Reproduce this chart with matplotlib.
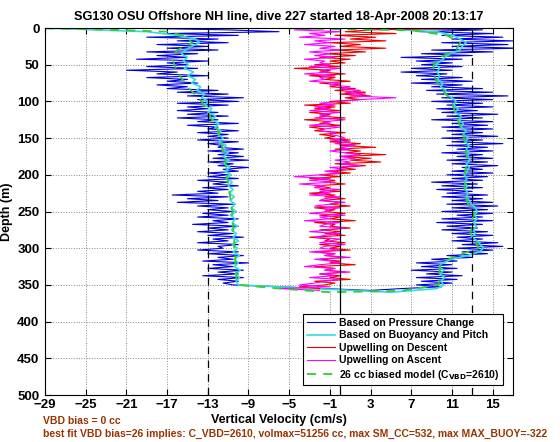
import numpy as np
import matplotlib
matplotlib.use("Agg")
import matplotlib.pyplot as plt

plt.rcParams['font.family'] = ['Liberation Sans', 'DejaVu Sans']
plt.rcParams['font.weight'] = 'bold'

# ---- data (depth in m, velocity in cm/s) ----
title = 'SG130 OSU Offshore NH line, dive 227 started 18-Apr-2008 20:13:17'

# pressure based vertical velocity, descent (depth 0..350 every 2.5 m)
blue_desc = [
    -21, -11, -6, -17, -10, -19, -12, -16, -11, -18,
    -13, -17, -12, -19, -14, -18, -15, -20, -13, -17,
    -15, -19, -14, -21, -16, -18, -13, -19, -15, -17,
    -14, -18, -15, -17, -12, -16, -11, -15, -9.5, -14,
    -10, -16, -11, -15, -13, -16, -12, -15, -11, -16,
    -12, -14, -10, -15, -12, -13, -10, -14, -11, -13,
    -11, -14, -10, -13, -11.5, -12, -9.5, -13, -10, -12,
    -9.5, -12.5, -9, -13, -10.5, -12, -9, -11.5, -10, -13,
    -11, -13, -10, -14, -11, -12.5, -10, -13.5, -11, -14,
    -12, -16.5, -11, -15, -12, -16, -10.5, -14, -11, -13,
    -10.5, -13.5, -11, -14, -10, -12.5, -11, -14.5, -10, -13,
    -11, -14, -10.5, -13, -9.5, -12.5, -11, -14, -10, -12,
    -11.5, -14, -10, -13, -9.5, -12, -10.5, -13.5, -9, -12.5,
    -10.5, -13, -9.5, -12, -10, -13.5, -9.5, -12, -10, -11.5, -10.5,
]
# pressure based, ascent (depth 0..357.5 every 2.5 m)
blue_asc = [
    5, 14, 8, 15, 10, 16, 11, 17, 10, 16.5, 11, 17.5, 9, 15, 8, 13, 6, 12, 7.5, 11,
    8, 12, 7, 11, 6, 10.5, 7.5, 12, 8, 13, 7, 12, 9, 14, 8.5, 15, 9.5, 16.5, 10, 15,
    9, 14, 10.5, 15, 9.5, 13.5, 10, 15.5, 10.5, 14, 9, 15, 11, 14.5, 10, 15, 10.5, 14, 11, 15.5,
    10, 14, 11, 16, 10.5, 14.5, 11.5, 15, 10, 14, 11.5, 15, 10.5, 14.5, 11, 15.5, 12, 14, 11, 15,
    10.5, 14.5, 11, 14, 9, 13.5, 10, 14, 9.5, 13, 10.5, 14.5, 10, 14, 11, 15, 10.5, 15.5, 11, 14.5,
    10, 15, 11.5, 14, 10, 15, 9.5, 14, 10.5, 13.5, 10, 14.5, 11, 15, 11.5, 14, 11, 15.5, 12, 16,
    11.5, 15, 12, 14.5, 10.5, 13, 9, 11.5, 7.5, 11, 8, 11.5, 7, 11, 8.5, 12, 7.5, 11.5, 8, 11,
    7.5, 10, 6, 3,
]

# buoyancy and pitch model, descent (depth 0..350 every 5 m)
cyan_desc = [
    -29, -19, -16, -14.2, -13.8, -14.6, -15.2, -15.6, -15, -15.4,
    -14.9, -15.3, -14.4, -15, -14.2, -14.6, -13.7, -14.1, -13.3, -13.6,
    -12.9, -13.3, -12.6, -13, -12.2, -12.6, -11.9, -12.3, -11.7, -12,
    -11.5, -11.9, -11.2, -11.6, -11, -11.5, -10.9, -11.4, -10.8, -11.3,
    -10.7, -11.2, -10.6, -11, -10.5, -10.9, -10.4, -10.8, -10.3, -10.7,
    -10.2, -10.8, -10.3, -10.6, -10.1, -10.7, -10.2, -10.5, -10, -10.6,
    -10.1, -10.5, -9.9, -10.4, -10, -10.4, -9.8, -10.3, -9.9, -10.2, -10,
]
# buoyancy and pitch model, ascent (depth 0..360 every 5 m)
cyan_asc = [
    3, 9.5, 11.1, 11.8, 12.4, 12, 11.8, 10.8, 10.3, 9.9,
    9.4, 9.8, 9.5, 9.8, 9.6, 10.1, 9.9, 10.4, 10.3, 11,
    11.4, 11.2, 11.6, 11.3, 11.9, 11.7, 12.1, 11.9, 12.4, 12.1,
    12.6, 12.3, 12.7, 12.4, 12.7, 12.5, 12.8, 12.4, 12.7, 12.5,
    12.2, 12.5, 12.2, 12.5, 12.3, 12.6, 12.4, 12.7, 12.9, 13.3,
    13.5, 13.2, 13.5, 13.1, 13.4, 13.1, 13.3, 12.9, 13.5, 13.8,
    14.1, 13.7, 12.5, 11, 10.1, 9.7, 10.2, 9.8, 10.3, 9.9,
    10.2, 9.5, 5,
]

# 26 cc biased model
green_desc_depth = [0.5, 2, 5, 10, 20, 30, 40, 50, 60, 70, 80, 90, 100, 110, 120, 130, 140,
                    150, 160, 170, 180, 190, 200, 210, 220, 230, 240, 250, 260, 270, 280,
                    290, 300, 310, 320, 330, 340, 350, 356]
green_desc = [-29, -23, -17, -15.5, -14.5, -16, -16.5, -16.3, -16, -15.5, -15, -14.3, -13.6,
              -13.2, -12.8, -12.4, -12, -11.8, -11.6, -11.5, -11.3, -11.2, -11.2, -11, -10.9,
              -10.8, -10.7, -10.6, -10.6, -10.5, -10.5, -10.4, -10.4, -10.3, -10.3, -10.2,
              -10.2, -10.1, -5]
green_asc_depth = [360, 358, 350, 340, 330, 320, 310, 300, 290, 280, 270, 260, 250, 240, 230,
                   220, 210, 200, 190, 180, 170, 160, 150, 140, 130, 120, 110, 100, 90, 80,
                   70, 60, 50, 40, 30, 20, 10, 3, 0.5]
green_asc = [-1, 6, 9.7, 9.7, 9.8, 9.9, 11.5, 13.6, 13.3, 12.8, 13, 13, 13.2, 12.6, 12.3,
             12.2, 12.3, 12.2, 12.4, 12.5, 12.4, 12.3, 12.2, 12, 11.7, 11.4, 11.2, 11, 10.4,
             9.8, 9.4, 9.2, 9.2, 9.8, 11.4, 11.8, 10.5, 7, -5]

# upwelling on descent (depth 0..355 every 2.5 m)
red_up = [
    15, 3, 0.5, 5.5, -0.5, 3.5, 1, 4.5, -1, 2, 0, 4.5, -0.5, 2.5, -1.5, 1.5, -2, 1, -1, 0.5,
    -2.5, 0, -4.5, -1, -2, 0.5, -3, -0.5, -1.5, 1, -2, 0, -1, 1.5, -0.5, 2.5, 0, 3, 0.5, 2,
    -1, 1, -3.5, -0.5, -2.5, 0, -3, -1, -2, 0.5, -3.5, -1, -2, 0, -3, -1.5, -2.5, 0.5, -2, -0.5,
    -1.5, 1, -1, 2, 0, 3.5, -0.5, 2, 0.5, 4.5, 0, 3, 1, 4, -0.5, 2.5, 0, 1.5, -1, 1,
    -2, 0, -3, -0.5, -1.5, 0.5, -2.5, -1, -2, 0, -3, -0.5, -1.5, 0.5, -2, 0, -1, 1, -2.5, -0.5,
    -1.5, 0.5, -2, 0, -1, 1.5, -2.5, -0.5, -1, 1, -2, 0, -1.5, 0.5, -3, -1, -1.5, 0.5, -2, 0,
    -1, 1, -2.5, -0.5, -1.5, 0.5, -2, 0, -1, 1.5, -2.5, -0.5, -1.5, 0.5, -2, 0, -1, 1, -2.5, -0.5,
    -1.5, -4, -2,
]
# upwelling on ascent (depth 0..357.5 every 2.5 m)
mag_up = [
    -1, -4.5, 0, -3, -1.5, -4, 0.5, -2.5, -1, -3.5, -0.5, -2, 0, -3, -1, -2.5, -0.5, -3.5, -1.5, -2,
    -1, -3, 0, -2, -1, -3.5, -0.5, -2, -1.5, -3, 0, -1, 1, 0, 2, 0.5, 2.5, 1, 5.5, 2,
    0, -2, -0.5, -2.5, -1, -3, 0, -2, -1, -2.5, 0.5, -1.5, -1, -3, 0, -1.5, -2, -0.5, -1, 0,
    0.5, -1, 1, -0.5, 1.5, 0, 1, -1, 0.5, 2, 0, 1.5, -0.5, 1, 0, 2, -1, 0.5, -1.5, 0,
    -2, -4.5, -1, -3, -0.5, -4, -1.5, -2.5, 0, -2, -1, -3, 0, -1.5, -2, 0.5, -1, -2.5, 0, -1.5,
    -1, -3, 0.5, -2, -1, -3.5, 0, -1.5, -2, 0.5, -1, -3, 0, -1.5, -2.5, 0, -1, -2, 0.5, -1.5,
    -2, 0, -3, -0.5, -1.5, 1, -2.5, -1, 0, -2, -3.5, -0.5, -1.5, 1, -2, -0.5, -3, 0, -1.5, -2.5,
    -4, -1, -6, -2,
]

xticks = list(range(-29, 16, 4))
yticks = list(range(0, 501, 50))
w_limit = 13

note1 = 'VBD bias = 0 cc'
note2 = ('best fit VBD bias=26 implies: C_VBD=2610, volmax=51256 cc, '
         'max SM_CC=532, max MAX_BUOY=-322')


def main():
    d_bd = np.arange(len(blue_desc)) * 2.5
    d_ba = np.arange(len(blue_asc)) * 2.5
    d_cd = np.arange(len(cyan_desc)) * 5.0
    d_ca = np.arange(len(cyan_asc)) * 5.0
    d_r = np.arange(len(red_up)) * 2.5
    d_m = np.arange(len(mag_up)) * 2.5

    # descent then ascent as one trace
    blue_w = np.concatenate([blue_desc, blue_asc[::-1]])
    blue_d = np.concatenate([d_bd, d_ba[::-1]])
    cyan_w = np.concatenate([cyan_desc, cyan_asc[::-1]])
    cyan_d = np.concatenate([d_cd, d_ca[::-1]])
    green_w = np.concatenate([green_desc, green_asc])
    green_d = np.concatenate([green_desc_depth, green_asc_depth])

    fig = plt.figure(figsize=(5.6, 4.42), dpi=100)
    ax = fig.add_axes([0.0804, 0.1063, 0.8357, 0.8303])

    ax.plot(blue_w, blue_d, color='#0000DD', lw=0.8, label='Based on Pressure Change')
    ax.plot(cyan_w, cyan_d, color='#33DDDD', lw=1.2, label='Based on Buoyancy and Pitch')
    ax.plot(red_up, d_r, color='#EE0000', lw=0.8, label='Upwelling on Descent')
    ax.plot(mag_up, d_m, color='#FF00FF', lw=0.8, label='Upwelling on Ascent')
    ax.plot(green_w, green_d, color='#33CC33', lw=1.3, ls=(0, (5, 4)),
            label='26 cc biased model (C$_{\\mathbf{VBD}}$=2610)')

    ax.axvline(0, color='black', lw=0.9)
    ax.axvline(-w_limit, color='black', lw=0.9, ls=(0, (6, 5)))
    ax.axvline(w_limit, color='black', lw=0.9, ls=(0, (6, 5)))

    ax.set_xlim(-29, 17)
    ax.set_ylim(500, 0)
    ax.set_xticks(xticks)
    ax.set_yticks(yticks)
    ax.grid(True, ls=':', color='#888888', lw=0.7)
    ax.tick_params(direction='in', top=True, right=True, length=4, labelsize=9.5)
    ax.tick_params(axis='x', pad=3)
    ax.tick_params(axis='y', pad=4)
    for s in ax.spines.values():
        s.set_linewidth(0.8)

    ax.set_title(title, fontsize=9.2, fontweight='bold', pad=6)
    ax.set_xlabel('Vertical Velocity (cm/s)', fontsize=9, fontweight='bold', labelpad=2)
    ax.set_ylabel('Depth (m)', fontsize=9, fontweight='bold', labelpad=3)

    leg = ax.legend(loc='lower right', bbox_to_anchor=(0.99, 0.012), fontsize=7.5,
                    handlelength=2.7, labelspacing=0.24, borderpad=0.35,
                    handletextpad=0.4, fancybox=False, framealpha=1, edgecolor='black')
    leg.get_frame().set_linewidth(0.8)

    brown = '#993300'
    fig.text(0.077, 0.0475, note1, color=brown, fontsize=7.5, fontweight='bold', va='center')
    fig.text(0.077, 0.018, note2, color=brown, fontsize=7.5, fontweight='bold', va='center')

    fig.savefig('out.png', dpi=100)


if __name__ == "__main__":
    main()
